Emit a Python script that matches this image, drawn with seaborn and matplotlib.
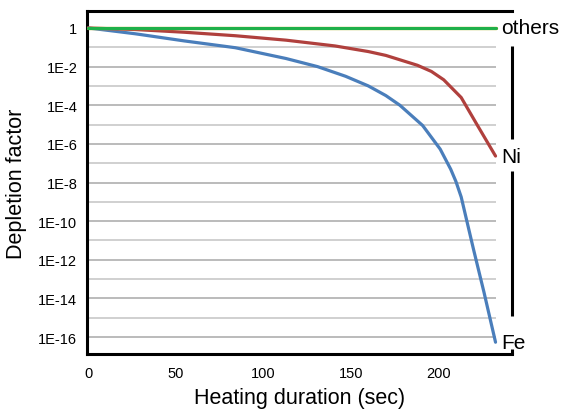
import numpy as np
import pandas as pd
import matplotlib
matplotlib.use("Agg")
import matplotlib.pyplot as plt
import seaborn as sns

# ── Data (log10 of depletion factor) ──────────────────────────────────────────
time_fe = [0, 4, 27, 55, 84, 113, 131, 147, 160, 170, 178, 191, 201, 207, 210,
           213, 220, 226, 232.6]
log_fe = [0, -0.04, -0.30, -0.67, -1.02, -1.58, -2.00, -2.50, -3.00, -3.50,
          -4.00, -5.05, -6.27, -7.31, -7.95, -8.75, -11.45, -13.68, -16.27]

time_ni = [0, 27, 55, 84, 113, 141, 160, 170, 188, 196, 203, 213, 222, 232.6]
log_ni = [0, -0.08, -0.22, -0.40, -0.63, -0.93, -1.22, -1.42, -1.93, -2.25,
          -2.68, -3.60, -5.00, -6.63]

time_oth = [0, 232.6]
log_oth = [0, 0]

curve_labels = ["others", "Ni", "Fe"]
y_decades = list(range(0, -17, -2))
y_ticklabels = ["1"] + [f"1E{d}" for d in y_decades[1:]]
x_ticks = [0, 50, 100, 150, 200]

# ── Style ─────────────────────────────────────────────────────────────────────
sns.set_theme(style="white")
plt.rcParams["font.family"] = ["Liberation Sans", "DejaVu Sans"]
plt.rcParams["text.color"] = "black"
plt.rcParams["axes.labelcolor"] = "black"
BLUE, RED, GREEN, YELLOW = "#4a7ebb", "#b0403d", "#1fb04a", "#c9b52a"

fig = plt.figure(figsize=(5.65, 4.10), dpi=100)
ax = fig.add_axes([87 / 565, 55 / 410, 425 / 565, 343 / 410])

# gridlines (stop short of the right frame, like the original)
for d in range(-1, -17, -1):
    col = "#a8a8a8" if d % 2 == 0 else "#c4c4c4"
    ax.hlines(10.0 ** d, 0, 233, color=col, linewidth=1.1, zorder=1)

fe = pd.DataFrame({"t": time_fe, "v": 10.0 ** np.array(log_fe)})
ni = pd.DataFrame({"t": time_ni, "v": 10.0 ** np.array(log_ni)})
oth = pd.DataFrame({"t": time_oth, "v": 10.0 ** np.array(log_oth)})

sns.lineplot(data=fe, x="t", y="v", color=BLUE, linewidth=2.3, ax=ax, zorder=3)
sns.lineplot(data=ni, x="t", y="v", color=RED, linewidth=2.3, ax=ax, zorder=3)
sns.lineplot(data=oth, x="t", y="v", color=YELLOW, linewidth=2.4, ax=ax, zorder=3)
sns.lineplot(data=oth, x="t", y="v", color=GREEN, linewidth=2.2, ax=ax, zorder=4)

ax.set_yscale("log")
ax.set_ylim(10 ** -16.88, 10 ** 0.88)
ax.set_xlim(-0.6, 242)
ax.set_yticks([10.0 ** d for d in y_decades])
ax.set_yticklabels(y_ticklabels)
ax.yaxis.set_minor_locator(matplotlib.ticker.NullLocator())
ax.set_xticks(x_ticks)
ax.tick_params(axis="both", length=0, labelsize=10.5, colors="black")
ax.tick_params(axis="y", pad=7)
ax.tick_params(axis="x", pad=9)

ax.set_xlabel("Heating duration (sec)", fontsize=15.5, labelpad=5)
ax.set_ylabel("Depletion factor", fontsize=15.5, labelpad=8)

# frame: right side is broken by the curve labels
for side in ["left", "bottom", "top"]:
    ax.spines[side].set_color("black")
    ax.spines[side].set_linewidth(2.2)
ax.spines["right"].set_visible(False)
for y0, y1 in [(0.627, 0.898), (0.111, 0.534), (0.0, 0.015)]:
    ax.plot([1, 1], [y0, y1], transform=ax.transAxes, color="black",
            linewidth=2.2, clip_on=False, solid_capstyle="butt")

# end-of-curve labels
ends = [log_oth[-1], log_ni[-1], log_fe[-1]]
for lab, e in zip(curve_labels, ends):
    ax.text(236, 10.0 ** e, lab, fontsize=15, va="center", ha="left",
            color="black", clip_on=False)

fig.savefig("out.png", dpi=100)
